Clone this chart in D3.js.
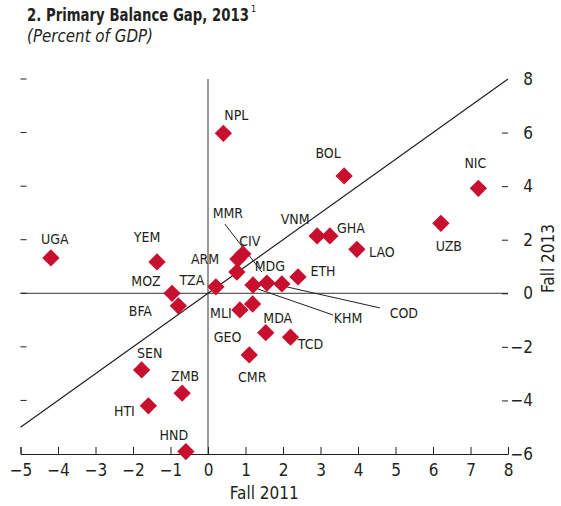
<!DOCTYPE html>
<html>
<head>
<meta charset="utf-8">
<script src="https://cdn.jsdelivr.net/npm/d3@7"></script>
<style>
  body { margin: 0; background: #fff; }
  svg text { font-family: "Liberation Sans Narrow", "DejaVu Sans Condensed", "Arial Narrow", sans-serif; fill: #231f20; }
</style>
</head>
<body>
<div id="chart"></div>
<script>
// Country codes and values (percent of GDP)
const countries = ["UGA", "YEM", "MOZ", "BFA", "TZA", "ARM", "CIV", "MDG", "KHM", "MMR", "COD", "ETH",
  "MLI", "GEO", "MDA", "TCD", "CMR", "VNM", "GHA", "LAO", "BOL", "UZB", "NIC", "NPL",
  "SEN", "ZMB", "HTI", "HND"];
const fall2011 = [-4.19, -1.36, -0.96, -0.79, 0.21, 0.80, 0.93, 0.77, 1.20, 1.57, 1.97, 2.40,
  0.85, 1.19, 1.54, 2.20, 1.10, 2.91, 3.25, 3.97, 3.63, 6.21, 7.21, 0.41,
  -1.77, -0.69, -1.59, -0.59];
const fall2013 = [1.32, 1.17, 0.0, -0.47, 0.24, 1.28, 1.47, 0.79, 0.31, 0.38, 0.35, 0.61,
  -0.62, -0.40, -1.47, -1.64, -2.30, 2.14, 2.14, 1.64, 4.38, 2.61, 3.92, 5.97,
  -2.86, -3.73, -4.20, -5.91];

const xTicks = [-5, -4, -3, -2, -1, 0, 1, 2, 3, 4, 5, 6, 7, 8];
const yTicks = [-6, -4, -2, 0, 2, 4, 6, 8];

// label placement (pixel offsets from the marker)
const labelOffset = {
  UGA: [4, -19], YEM: [-10, -25], MOZ: [-26, -12], BFA: [-38, 5], TZA: [-24, -7],
  ARM: [-33, 0], CIV: [7, -13], MDG: [33, -6], MMR: [-39, -70], KHM: [95, 33],
  COD: [122, 29], ETH: [25, -6], MLI: [-19, 3], GEO: [-25, 33], MDA: [12, -15],
  TCD: [20, 7], CMR: [3, 22], VNM: [-22, -17], GHA: [21, -8], LAO: [25, 3],
  BOL: [-16, -23], UZB: [8, 23], NIC: [-3, -25], NPL: [13, -18], SEN: [8, -17],
  ZMB: [3, -17], HTI: [-24, 5], HND: [-12, -17]
};
// leader lines: [x1, y1, x2, y2] offsets from the marker
const leaders = {
  MMR: [-42, -59, -5, -11],
  KHM: [2, 3, 80, 30],
  COD: [5, 3, 98, 24]
};

const width = 561, height = 506;
const red = "#c8102e";

const data = countries.map((c, i) => ({ id: c, x: fall2011[i], y: fall2013[i] }));

const svg = d3.select("#chart").append("svg")
  .attr("width", width)
  .attr("height", height);

const x = d3.scaleLinear().domain([-5, 8]).range([20.5, 508]);
const y = d3.scaleLinear().domain([-6, 8]).range([454, 79]);

const fmt = d => d < 0 ? "\u2212" + Math.abs(d) : String(d);

// Title (condensed to the width of the original), footnote mark as a tspan
const title = svg.append("text")
  .attr("x", 27).attr("y", 21)
  .attr("font-size", "18px").attr("font-weight", "bold");
title.append("tspan")
  .attr("textLength", 222).attr("lengthAdjust", "spacingAndGlyphs")
  .text("2. Primary Balance Gap, 2013");
title.append("tspan")
  .attr("dx", 2).attr("dy", -9)
  .attr("font-size", "9px").attr("font-weight", "normal")
  .text("1");

svg.append("text")
  .attr("x", 27).attr("y", 42)
  .attr("font-size", "17px").attr("font-style", "italic")
  .attr("textLength", 126).attr("lengthAdjust", "spacingAndGlyphs")
  .text("(Percent of GDP)");

// Zero lines
svg.append("line")
  .attr("x1", x(-5)).attr("x2", x(8))
  .attr("y1", y(0)).attr("y2", y(0))
  .attr("stroke", "#333").attr("stroke-width", 1);
svg.append("line")
  .attr("x1", x(0)).attr("x2", x(0))
  .attr("y1", y(8)).attr("y2", y(-6))
  .attr("stroke", "#333").attr("stroke-width", 1);

// 45 degree line
svg.append("line")
  .attr("x1", x(-5)).attr("y1", y(-5))
  .attr("x2", x(8)).attr("y2", y(8))
  .attr("stroke", "#231f20").attr("stroke-width", 1.2);

// Bottom axis
const xAxis = svg.append("g")
  .attr("transform", `translate(0,${y(-6)})`)
  .call(d3.axisBottom(x).tickValues(xTicks).tickSize(-7).tickPadding(10).tickFormat(fmt));
xAxis.select(".domain").attr("stroke", "#231f20");
xAxis.selectAll(".tick line").attr("stroke", "#231f20");
xAxis.selectAll("text").attr("font-size", "17px").attr("fill", "#231f20")
  .style("font-family", "'Liberation Sans Narrow', 'DejaVu Sans Condensed', sans-serif");

// Left tick dashes
svg.append("g")
  .selectAll("line")
  .data(yTicks.filter(d => d !== -6))
  .join("line")
  .attr("x1", x(-5)).attr("x2", x(-5) + 6)
  .attr("y1", d => y(d)).attr("y2", d => y(d))
  .attr("stroke", "#231f20");

// Right axis
const yAxis = svg.append("g")
  .attr("transform", `translate(${x(8)},0)`)
  .call(d3.axisRight(y).tickValues(yTicks).tickSize(-6).tickPadding(20).tickFormat(fmt));
yAxis.select(".domain").remove();
yAxis.selectAll(".tick line").attr("stroke", d => d === -6 || d === 8 ? "none" : "#231f20");
yAxis.selectAll("text").attr("font-size", "17px").attr("fill", "#231f20")
  .attr("text-anchor", "end").attr("x", 25)
  .style("font-family", "'Liberation Sans Narrow', 'DejaVu Sans Condensed', sans-serif");

// Axis titles
svg.append("text")
  .attr("x", (x(-5) + x(8)) / 2).attr("y", 499)
  .attr("text-anchor", "middle").attr("font-size", "17px")
  .text("Fall 2011");
svg.append("text")
  .attr("transform", `translate(554,${y(1.3)}) rotate(-90)`)
  .attr("text-anchor", "middle").attr("font-size", "17px")
  .text("Fall 2013");

// Leader lines
svg.append("g")
  .selectAll("line")
  .data(data.filter(d => leaders[d.id]))
  .join("line")
  .attr("x1", d => x(d.x) + leaders[d.id][0])
  .attr("y1", d => y(d.y) + leaders[d.id][1])
  .attr("x2", d => x(d.x) + leaders[d.id][2])
  .attr("y2", d => y(d.y) + leaders[d.id][3])
  .attr("stroke", "#231f20").attr("stroke-width", 1);

// Diamonds
svg.append("g")
  .selectAll("path")
  .data(data)
  .join("path")
  .attr("d", d3.symbol(d3.symbolSquare, 150))
  .attr("transform", d => `translate(${x(d.x)},${y(d.y)}) rotate(45)`)
  .attr("fill", red);

// Labels
svg.append("g")
  .selectAll("text")
  .data(data)
  .join("text")
  .attr("x", d => x(d.x) + labelOffset[d.id][0])
  .attr("y", d => y(d.y) + labelOffset[d.id][1])
  .attr("text-anchor", "middle")
  .attr("dominant-baseline", "central")
  .attr("font-size", "14px")
  .attr("fill", "#3a3a3a")
  .text(d => d.id);
</script>
</body>
</html>
